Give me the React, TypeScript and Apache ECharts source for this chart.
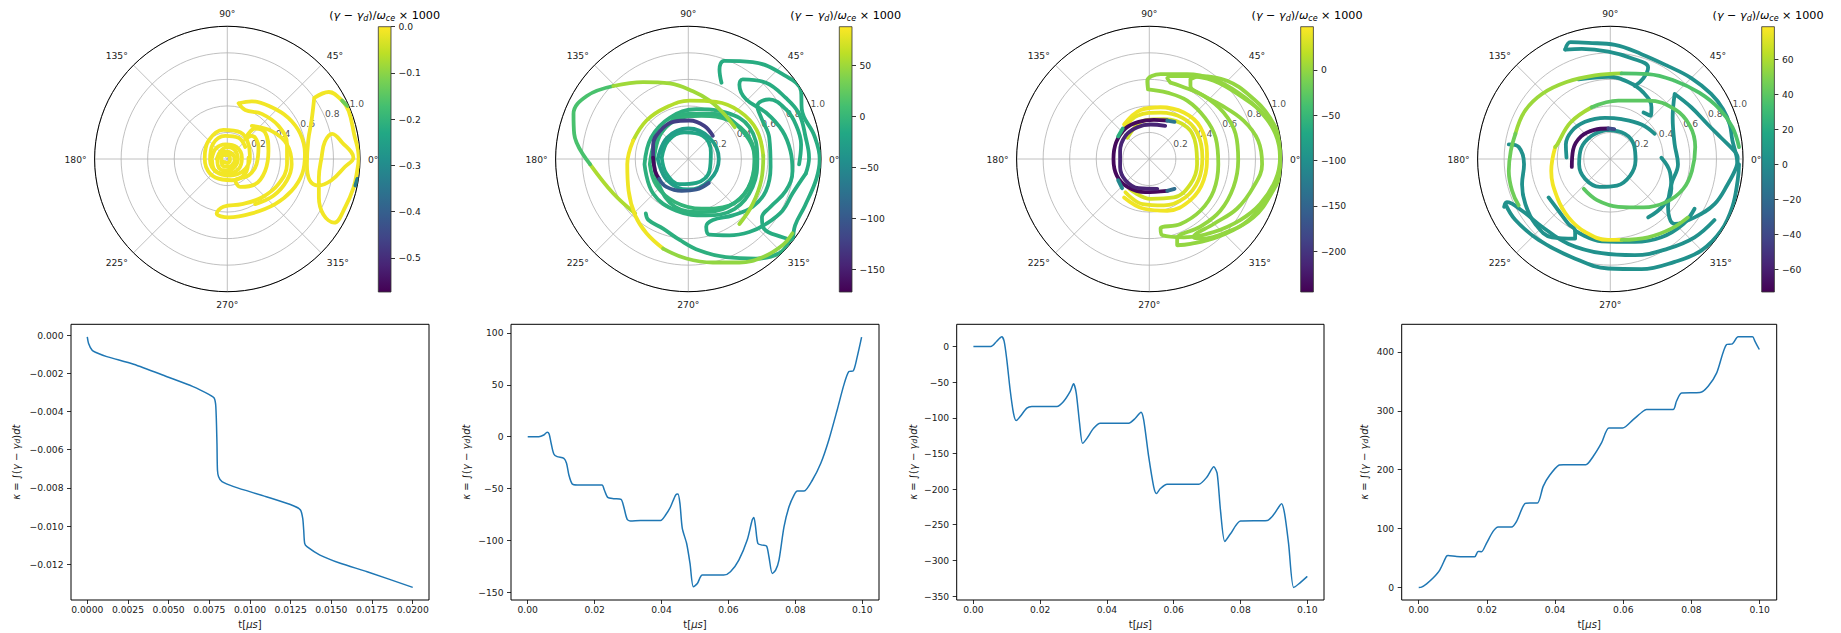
import React, { useEffect, useRef } from "react";
import * as echarts from "echarts";

const FONT = "'DejaVu Sans', sans-serif";
const VIRIDIS = ["#440154", "#482475", "#414487", "#355f8d", "#2a788e", "#21918c", "#22a884", "#44bf70", "#7ad151", "#bddf26", "#fde725"];

// ---- colorbar ranges & ticks ----
const cbMin = [-0.574, -172, -245, -72.9];
const cbMax = [0.0, 87.6, 47.5, 78.7];
const cbTicks1 = [0, -0.1, -0.2, -0.3, -0.4, -0.5];
const cbTicks2 = [50, 0, -50, -100, -150];
const cbTicks3 = [0, -50, -100, -150, -200];
const cbTicks4 = [60, 40, 20, 0, -20, -40, -60];
const cbDec = [1, 0, 0, 0];

// ---- polar radial tick labels ----
const rTicks = [0.2, 0.4, 0.6, 0.8, 1.0];
const rLabelAngle = 22.5;

type Stroke = { v: number; pts: number[][] };

// trajectories: points in units of r (x = r cos θ, y = r sin θ), v = colour value
const traj1: Stroke[] = [
  { v: -0.01, pts: [[-0.08, 0], [-0.05, 0.06], [0, 0.09], [0.055, 0.07], [0.08, 0], [0.055, -0.06], [0, -0.09], [-0.06, -0.07], [-0.075, -0.01], [-0.05, 0.04], [0, 0.055], [0.045, 0.03], [0.055, -0.01], [0.035, -0.05], [-0.01, -0.06], [-0.04, -0.04], [-0.045, 0.01], [-0.02, 0.03], [0.015, 0.025], [0.02, -0.01], [0, -0.03], [-0.03, -0.02]] },
  { v: -0.01, pts: [[-0.115, 0.01], [-0.085, 0.08], [-0.015, 0.11], [0.07, 0.09], [0.11, 0.01], [0.085, -0.075], [0, -0.11], [-0.09, -0.09], [-0.115, -0.01]] },
  { v: -0.01, pts: [[0.16, 0.01], [0.135, -0.11], [0.035, -0.16], [-0.09, -0.14], [-0.16, -0.06], [-0.17, 0.01], [-0.14, 0.14], [-0.03, 0.22], [0.1, 0.2], [0.16, 0.11], [0.17, 0.01], [0.12, -0.09], [0.02, -0.125], [-0.08, -0.1], [-0.13, -0.01], [-0.11, 0.11], [-0.015, 0.175], [0.085, 0.16], [0.135, 0.09]] },
  { v: -0.01, pts: [[0.135, 0.15], [0.21, 0.23], [0.285, 0.2], [0.31, 0.06], [0.285, -0.09], [0.21, -0.19], [0.1, -0.21], [0.06, -0.16], [0.16, -0.125], [0.22, -0.04], [0.235, 0.09], [0.185, 0.175], [0.135, 0.15]] },
  { v: -0.01, pts: [[0.085, 0.42], [0.185, 0.435], [0.335, 0.39], [0.46, 0.31], [0.55, 0.19], [0.585, 0.04], [0.565, -0.11], [0.485, -0.24], [0.36, -0.34], [0.185, -0.41], [0.01, -0.44], [-0.08, -0.41], [-0.03, -0.36], [0.11, -0.34], [0.26, -0.29], [0.385, -0.19], [0.45, -0.04], [0.45, 0.11], [0.385, 0.25], [0.26, 0.34], [0.135, 0.37], [0.085, 0.42]] },
  { v: -0.01, pts: [[0.185, 0.25], [0.335, 0.21], [0.45, 0.11], [0.485, -0.04], [0.45, -0.16], [0.35, -0.275], [0.21, -0.34]] },
  { v: -0.01, pts: [[0.655, 0.46], [0.765, 0.505], [0.865, 0.44], [0.915, 0.36], [0.955, 0.19], [0.99, 0.01], [0.975, -0.11], [0.95, -0.22], [0.89, -0.36], [0.805, -0.48], [0.725, -0.42], [0.69, -0.29], [0.69, -0.14], [0.71, 0.01], [0.735, 0.13], [0.79, 0.19], [0.865, 0.125], [0.95, 0.01], [0.885, -0.06], [0.785, -0.16], [0.685, -0.2], [0.62, -0.16], [0.6, -0.04], [0.61, 0.14], [0.635, 0.29], [0.655, 0.46]] },
  { v: -0.13, pts: [[0.865, 0.44], [0.905, 0.4]] },
  { v: -0.33, pts: [[0.965, -0.2], [0.98, -0.15]] },
];

const traj2: Stroke[] = [
  { v: -8, pts: [[-0.33, -0.04], [-0.28, 0.16], [-0.14, 0.31], [0.06, 0.375], [0.285, 0.35], [0.46, 0.24], [0.52, 0.01], [0.485, -0.21], [0.35, -0.375], [0.135, -0.425], [-0.09, -0.39], [-0.265, -0.26], [-0.33, -0.04]] },
  { v: -3, pts: [[-0.29, -0.04], [-0.24, 0.15], [-0.1, 0.29], [0.1, 0.325], [0.31, 0.29], [0.46, 0.16], [0.5, -0.025], [0.45, -0.225], [0.31, -0.35], [0.1, -0.375], [-0.1, -0.325], [-0.24, -0.2], [-0.29, -0.04]] },
  { v: -6, pts: [[-0.26, -0.02], [-0.2, 0.2], [0, 0.34], [0.2, 0.34], [0.4, 0.22], [0.5, 0], [0.45, -0.22], [0.3, -0.36], [0.1, -0.4], [-0.1, -0.36], [-0.22, -0.2], [-0.26, -0.02]] },
  { v: -20, pts: [[-0.2, 0.01], [-0.15, 0.14], [-0.03, 0.2], [0.11, 0.175], [0.17, 0.05], [0.16, -0.09], [0.06, -0.18], [-0.065, -0.19], [-0.165, -0.11], [-0.2, 0.01]] },
  { v: -28, pts: [[-0.23, 0], [-0.16, 0.16], [0, 0.23], [0.16, 0.16], [0.23, 0], [0.16, -0.16], [0, -0.23], [-0.16, -0.16], [-0.23, 0]] },
  { v: -12, pts: [[0.25, 0.575], [0.235, 0.675], [0.27, 0.74], [0.485, 0.73], [0.71, 0.64], [0.85, 0.51], [0.855, 0.375], [0.95, 0.175], [0.99, 0], [0.965, -0.15], [0.88, -0.35], [0.805, -0.5], [0.79, -0.61]] },
  { v: -12, pts: [[0.79, -0.61], [0.71, -0.59], [0.57, -0.525], [0.555, -0.44], [0.62, -0.36], [0.735, -0.24], [0.785, -0.09], [0.77, 0.06], [0.71, 0.21], [0.585, 0.35], [0.435, 0.45], [0.385, 0.56], [0.41, 0.6], [0.585, 0.575], [0.735, 0.46], [0.835, 0.34], [0.885, 0.16], [0.91, 0.01], [0.885, -0.11]] },
  { v: -12, pts: [[0.885, -0.11], [0.785, -0.26], [0.71, -0.39], [0.585, -0.49], [0.46, -0.55], [0.31, -0.575], [0.16, -0.57], [0.135, -0.51], [0.185, -0.46], [0.335, -0.425], [0.485, -0.36], [0.585, -0.24], [0.62, -0.06], [0.61, 0.16], [0.55, 0.31], [0.52, 0.4], [0.61, 0.45], [0.735, 0.375], [0.81, 0.26], [0.85, 0.11], [0.835, -0.04]] },
  { v: -8, pts: [[-0.32, -0.41], [-0.3, -0.46], [-0.19, -0.525], [-0.065, -0.61], [0.085, -0.69], [0.285, -0.74], [0.51, -0.75], [0.685, -0.71], [0.76, -0.62]] },
  { v: 55, pts: [[-0.4, -0.41], [-0.565, -0.26], [-0.74, -0.04]] },
  { v: 12, pts: [[-0.74, -0.04], [-0.86, 0.19], [-0.865, 0.34], [-0.765, 0.475], [-0.565, 0.55]] },
  { v: 50, pts: [[-0.565, 0.55], [-0.34, 0.58], [-0.14, 0.57], [0.035, 0.51], [0.16, 0.44], [0.26, 0.35], [0.35, 0.24]] },
  { v: 58, pts: [[0.565, 0.025], [0.515, 0.22], [0.385, 0.36], [0.21, 0.43], [0.01, 0.44], [-0.165, 0.39], [-0.315, 0.29], [-0.415, 0.14]] },
  { v: 82, pts: [[-0.415, 0.14], [-0.46, -0.04], [-0.45, -0.24], [-0.4, -0.425], [-0.315, -0.56], [-0.19, -0.675]] },
  { v: 45, pts: [[-0.19, -0.675], [-0.015, -0.75], [0.185, -0.78], [0.385, -0.78], [0.56, -0.74], [0.71, -0.65], [0.785, -0.56]] },
  { v: 50, pts: [[0.565, 0.025], [0.55, -0.16], [0.485, -0.34], [0.385, -0.49]] },
  { v: -125, pts: [[0.185, 0.175], [0.12, 0.25], [0.01, 0.29], [-0.115, 0.28], [-0.215, 0.21], [-0.265, 0.11], [-0.265, 0.01]] },
  { v: -165, pts: [[-0.265, 0.01], [-0.25, -0.09], [-0.22, -0.15]] },
  { v: -100, pts: [[-0.22, -0.15], [-0.165, -0.21], [-0.05, -0.24], [0.06, -0.23], [0.155, -0.18]] },
];

const traj3: Stroke[] = [
  { v: 0, pts: [[-0.01, 0.525], [-0.015, 0.59], [0.085, 0.64], [0.285, 0.64], [0.485, 0.6], [0.685, 0.49], [0.835, 0.36], [0.95, 0.19], [0.985, 0.01], [0.95, -0.16], [0.835, -0.34], [0.685, -0.46], [0.485, -0.55], [0.26, -0.59], [0.1, -0.575], [0.085, -0.525], [0.235, -0.49], [0.385, -0.39], [0.485, -0.24], [0.52, -0.04], [0.5, 0.16], [0.42, 0.31], [0.285, 0.44], [0.135, 0.5], [-0.01, 0.525]] },
  { v: 0, pts: [[0.16, 0.575], [0.135, 0.61], [0.285, 0.625], [0.485, 0.59], [0.71, 0.46], [0.86, 0.34], [0.97, 0.16], [0.99, -0.01], [0.96, -0.16], [0.86, -0.34], [0.71, -0.49], [0.51, -0.59], [0.31, -0.64], [0.21, -0.65], [0.21, -0.6], [0.385, -0.51], [0.535, -0.39], [0.635, -0.21], [0.67, -0.01], [0.65, 0.19], [0.56, 0.35], [0.41, 0.475], [0.235, 0.55], [0.16, 0.575]] },
  { v: 0, pts: [[0.31, 0.6], [0.385, 0.625], [0.585, 0.59], [0.76, 0.475], [0.91, 0.31], [0.985, 0.11], [0.985, -0.09], [0.92, -0.26], [0.785, -0.44], [0.585, -0.55], [0.385, -0.6], [0.335, -0.59], [0.485, -0.49], [0.66, -0.375], [0.785, -0.21], [0.85, -0.04], [0.82, 0.14], [0.71, 0.29], [0.535, 0.41], [0.385, 0.49], [0.31, 0.55], [0.31, 0.6]] },
  { v: 42, pts: [[-0.19, 0.26], [-0.065, 0.37], [0.085, 0.39], [0.26, 0.35], [0.385, 0.24], [0.435, 0.04], [0.41, -0.16], [0.31, -0.31], [0.135, -0.39], [-0.04, -0.375], [-0.19, -0.29]] },
  { v: 38, pts: [[-0.215, 0.19], [-0.09, 0.325], [0.085, 0.35], [0.25, 0.31], [0.36, 0.2], [0.4, 0.01], [0.37, -0.16], [0.27, -0.29], [0.11, -0.35], [-0.05, -0.34], [-0.18, -0.25]] },
  { v: 28, pts: [[-0.165, 0.16], [-0.04, 0.29], [0.11, 0.3], [0.285, 0.24], [0.35, 0.11], [0.36, -0.04], [0.31, -0.19], [0.185, -0.29], [0.01, -0.3], [-0.15, -0.225]] },
  { v: -238, pts: [[0.135, 0.29], [0.035, 0.295], [-0.08, 0.28], [-0.18, 0.23], [-0.25, 0.125], [-0.27, 0], [-0.245, -0.125], [-0.165, -0.21], [-0.03, -0.25], [0.135, -0.24]] },
  { v: -215, pts: [[0.12, 0.25], [0.01, 0.26], [-0.09, 0.24], [-0.18, 0.175], [-0.22, 0.06], [-0.22, -0.06], [-0.18, -0.16], [-0.08, -0.22], [0.06, -0.225]] },
  { v: -130, pts: [[0.135, 0.29], [0.19, 0.28]] },
  { v: -140, pts: [[0.135, -0.24], [0.19, -0.225]] },
  { v: -60, pts: [[-0.2, 0.23], [-0.235, 0.17]] },
  { v: -110, pts: [[-0.235, -0.16], [-0.205, -0.22]] },
];

const traj4: Stroke[] = [
  { v: 3, pts: [[-0.03, 0.22], [0.11, 0.19], [0.18, 0.1], [0.19, -0.01], [0.15, -0.125], [0.05, -0.2], [-0.08, -0.21], [-0.19, -0.15], [-0.235, -0.04], [-0.22, 0.08], [-0.14, 0.175], [-0.03, 0.22]] },
  { v: 3, pts: [[-0.33, 0.01], [-0.335, 0.11], [-0.29, 0.21], [-0.19, 0.28], [-0.04, 0.31], [0.085, 0.3], [0.235, 0.26], [0.335, 0.19]] },
  { v: 3, pts: [[-0.24, 0.6], [-0.015, 0.62], [0.135, 0.58], [0.25, 0.5], [0.31, 0.39], [0.305, 0.325], [0.25, 0.35]] },
  { v: 3, pts: [[-0.34, 0.825], [-0.215, 0.83], [-0.015, 0.81], [0.16, 0.76], [0.285, 0.69], [0.25, 0.61], [0.185, 0.55]] },
  { v: 3, pts: [[-0.34, 0.825], [-0.3, 0.88], [-0.165, 0.875], [0.035, 0.86], [0.235, 0.79], [0.435, 0.7], [0.61, 0.61], [0.76, 0.49], [0.85, 0.375], [0.9, 0.26], [0.92, 0.14], [0.95, 0.025], [0.96, -0.04]] },
  { v: 3, pts: [[0.485, 0.49], [0.47, 0.31], [0.485, 0.11], [0.51, -0.04], [0.46, -0.19], [0.435, -0.36], [0.485, -0.49], [0.635, -0.44], [0.785, -0.34], [0.885, -0.19], [0.95, -0.06], [0.96, 0.01], [0.935, 0.06], [0.835, 0.16], [0.735, 0.26], [0.61, 0.39], [0.485, 0.49]] },
  { v: 3, pts: [[-0.79, -0.34], [-0.715, -0.46], [-0.54, -0.61], [-0.29, -0.74], [-0.015, -0.825], [0.235, -0.83], [0.485, -0.775], [0.685, -0.69], [0.835, -0.54], [0.92, -0.36], [0.96, -0.16], [0.97, -0.04]] },
  { v: 3, pts: [[-0.8, -0.36], [-0.78, -0.325], [-0.665, -0.39], [-0.515, -0.51], [-0.315, -0.64], [-0.065, -0.71], [0.185, -0.725], [0.435, -0.675], [0.635, -0.59], [0.785, -0.46]] },
  { v: 3, pts: [[-0.765, 0.11], [-0.69, 0.09], [-0.65, -0.04], [-0.665, -0.19], [-0.64, -0.34], [-0.565, -0.49], [-0.44, -0.59], [-0.265, -0.6], [-0.265, -0.54], [-0.315, -0.49], [-0.39, -0.39], [-0.465, -0.29]] },
  { v: 3, pts: [[-0.265, -0.54], [-0.065, -0.62], [0.185, -0.625], [0.385, -0.59], [0.55, -0.49], [0.635, -0.375]] },
  { v: 3, pts: [[0.385, 0.01], [0.45, -0.1], [0.46, -0.225], [0.4, -0.35], [0.285, -0.44]] },
  { v: -68, pts: [[-0.29, -0.06], [-0.28, 0.07], [-0.22, 0.17], [-0.12, 0.22], [-0.015, 0.23]] },
  { v: -40, pts: [[-0.015, 0.23], [0.03, 0.225]] },
  { v: 76, pts: [[-0.415, 0.09], [-0.445, -0.09], [-0.4, -0.29], [-0.315, -0.44], [-0.19, -0.55], [-0.015, -0.61], [0.085, -0.61]] },
  { v: 50, pts: [[0.085, -0.61], [0.285, -0.59], [0.46, -0.525], [0.585, -0.44]] },
  { v: 58, pts: [[-0.415, 0.09], [-0.4, 0.11], [-0.3, 0.275], [-0.14, 0.39]] },
  { v: 40, pts: [[-0.14, 0.39], [0.06, 0.44], [0.285, 0.44], [0.485, 0.375], [0.6, 0.25], [0.64, 0.09], [0.615, -0.09], [0.55, -0.225], [0.42, -0.325], [0.25, -0.365], [0.06, -0.36], [-0.1, -0.31], [-0.2, -0.225]] },
  { v: 56, pts: [[-0.715, 0.19], [-0.645, 0.36], [-0.515, 0.49], [-0.33, 0.58], [-0.115, 0.63], [0.085, 0.645]] },
  { v: 36, pts: [[0.085, 0.645], [0.285, 0.64], [0.485, 0.59], [0.67, 0.5], [0.82, 0.38], [0.92, 0.24], [0.97, 0.09]] },
  { v: 45, pts: [[-0.715, 0.19], [-0.75, 0.06], [-0.765, -0.09], [-0.74, -0.24], [-0.69, -0.35]] },
];

const trajs = [traj1, traj2, traj3, traj4];
const cbTicks = [cbTicks1, cbTicks2, cbTicks3, cbTicks4];

// ---- κ(t) curves ----
const kappa1 = [[0, -0.0001], [0.00008, -0.00044], [0.0003, -0.0008], [0.0005, -0.0009], [0.0012, -0.00113], [0.00285, -0.00153], [0.0049, -0.00218], [0.0065, -0.0027], [0.0075, -0.00312], [0.0078, -0.0033], [0.0079, -0.00375], [0.00797, -0.00567], [0.008, -0.00706], [0.00807, -0.00741], [0.00828, -0.00767], [0.009, -0.00793], [0.011, -0.00846], [0.0127, -0.00894], [0.0131, -0.00915], [0.01324, -0.00959], [0.0133, -0.0102], [0.01336, -0.0109], [0.0135, -0.01107], [0.0143, -0.01151], [0.01555, -0.01194], [0.0172, -0.01238], [0.02, -0.0132]];
const kappa2 = [[0, 0], [0.0033, 0], [0.0048, 1.6], [0.0058, 4.2], [0.0064, 2.6], [0.007, -6.4], [0.0078, -16.7], [0.0088, -19.3], [0.0108, -20.9], [0.0116, -25.7], [0.0123, -37], [0.0133, -45.7], [0.0148, -46.7], [0.0222, -46.7], [0.0229, -51.5], [0.0239, -58.6], [0.0257, -59.8], [0.0279, -60.5], [0.0287, -67.6], [0.0297, -79.5], [0.0307, -81.4], [0.0337, -80.8], [0.0397, -80.8], [0.0412, -75.6], [0.0427, -67.6], [0.0442, -56.3], [0.0449, -55.3], [0.0455, -64.4], [0.0462, -88.5], [0.0475, -103], [0.0485, -122], [0.0495, -144.8], [0.0507, -141.6], [0.0522, -133.5], [0.0586, -133.5], [0.0606, -130.3], [0.0631, -119], [0.0656, -99.7], [0.0671, -80.4], [0.0676, -77.9], [0.0681, -86.9], [0.0688, -103], [0.0701, -104.6], [0.0714, -105.5], [0.0721, -115.8], [0.0731, -131.9], [0.0741, -128.7], [0.0751, -119], [0.0766, -86.9], [0.0781, -67.6], [0.0796, -56.3], [0.0806, -52.4], [0.0826, -52.4], [0.0851, -41.8], [0.0876, -25.7], [0.09, -3.2], [0.0925, 25.7], [0.0945, 49.9], [0.096, 62.8], [0.0973, 63.4], [0.0985, 77.2], [0.0998, 95.9]];
const kappa3 = [[0, 0], [0.0052, 0], [0.007, 7.5], [0.0085, 13.6], [0.0092, 7.5], [0.01, -18.3], [0.011, -60.6], [0.012, -93.5], [0.0128, -103.9], [0.014, -98.2], [0.016, -86.5], [0.0175, -84.1], [0.025, -84.1], [0.027, -77.1], [0.029, -63], [0.03, -52.2], [0.0308, -65.3], [0.0318, -107.6], [0.0327, -135.8], [0.034, -128.8], [0.036, -114.7], [0.038, -107.6], [0.0465, -107.6], [0.0485, -100.6], [0.0502, -92.1], [0.051, -102.9], [0.0525, -154.6], [0.054, -196.9], [0.0548, -206.3], [0.056, -199.2], [0.058, -193.1], [0.0675, -193.1], [0.07, -182.8], [0.072, -168.7], [0.073, -178.1], [0.074, -229.8], [0.0753, -273.5], [0.077, -262.7], [0.08, -244.8], [0.088, -243.9], [0.09, -235.4], [0.0923, -220.4], [0.0932, -234.5], [0.0944, -276.8], [0.0959, -337.9], [0.0974, -333.2], [0.1, -322.4]];
const kappa4 = [[0, 0], [0.0008, 0.6], [0.0023, 6.2], [0.0042, 15.9], [0.0062, 30], [0.0081, 52.7], [0.0086, 54.4], [0.0111, 52.7], [0.0164, 52.1], [0.0174, 61.2], [0.0184, 60.6], [0.0199, 75.4], [0.0218, 95.2], [0.0233, 102.6], [0.0272, 102.6], [0.0287, 112.2], [0.0311, 142.2], [0.0326, 143.3], [0.0348, 143.3], [0.0365, 171.7], [0.0384, 190.4], [0.0412, 207.9], [0.0424, 208.5], [0.049, 208.5], [0.0512, 222.7], [0.0536, 245.3], [0.0558, 270.8], [0.0598, 270.8], [0.0629, 285], [0.0658, 299.2], [0.0668, 302], [0.0746, 302], [0.0756, 316.1], [0.0771, 330.3], [0.0825, 330.9], [0.0849, 341.6], [0.0874, 364.3], [0.0903, 412.5], [0.092, 413.6], [0.0937, 425.5], [0.0979, 425.5], [0.0986, 418.1], [0.0999, 404]];
const kappas = [kappa1, kappa2, kappa3, kappa4];

const xRange = [[-0.001, 0.021], [-0.005, 0.105], [-0.005, 0.105], [-0.005, 0.105]];
const yRange = [[-0.01386, 0.00056], [-157.5, 108.3], [-355.6, 31.2], [-21.3, 446.8]];
const xTicks1 = [0, 0.0025, 0.005, 0.0075, 0.01, 0.0125, 0.015, 0.0175, 0.02];
const xTicksB = [0, 0.02, 0.04, 0.06, 0.08, 0.1];
const yTicks1 = [0, -0.002, -0.004, -0.006, -0.008, -0.01, -0.012];
const yTicks2 = [100, 50, 0, -50, -100, -150];
const yTicks3 = [0, -50, -100, -150, -200, -250, -300, -350];
const yTicks4 = [0, 100, 200, 300, 400];
const xTicks = [xTicks1, xTicksB, xTicksB, xTicksB];
const yTicks = [yTicks1, yTicks2, yTicks3, yTicks4];
const xDec = [4, 2, 2, 2];
const yDec = [3, 0, 0, 0];

// ---- layout ----
const POLAR_CX = [227.3, 688.3, 1149.3, 1610.3];
const POLAR_CY = 159;
const POLAR_R = 132.7;
const CB_LEFT = [378.3, 839.3, 1300.7, 1761.7];
const CB_TOP = 26.7;
const CB_W = 12.7;
const CB_H = 265.3;
const LG_LEFT = [71, 511, 956.7, 1401.7];
const LG_W = [358, 368, 367.3, 375];
const LG_TOP = 324.3;
const LG_H = 275.7;
const Y_NAME_GAP = [50, 40, 38.7, 32.7];
const TICK_FS = 9.2;
const TXT = "#1a1a1a";

function hexRgb(h: string) {
  return [parseInt(h.slice(1, 3), 16), parseInt(h.slice(3, 5), 16), parseInt(h.slice(5, 7), 16)];
}
function viridis(t: number) {
  const c = Math.max(0, Math.min(1, t)) * 10;
  const i = Math.min(9, Math.floor(c));
  const f = c - i;
  const a = hexRgb(VIRIDIS[i]);
  const b = hexRgb(VIRIDIS[i + 1]);
  const m = a.map((x, k) => Math.round(x + (b[k] - x) * f));
  return `rgb(${m[0]},${m[1]},${m[2]})`;
}
function toPolar(p: number[]) {
  const r = Math.hypot(p[0], p[1]);
  const a = ((Math.atan2(p[1], p[0]) * 180) / Math.PI + 360) % 360;
  return [r, a];
}
function fmt(v: number, d: number) {
  const s = v.toFixed(d);
  return s.replace("-", "\u2212");
}

function buildOption() {
  const idx = [0, 1, 2, 3];
  const series: any[] = [];
  idx.forEach((i) => {
    series.push({
      type: "scatter",
      coordinateSystem: "polar",
      polarIndex: i,
      data: rTicks.map((r) => [r, rLabelAngle]),
      symbolSize: 1,
      itemStyle: { color: "rgba(0,0,0,0)" },
      silent: true,
      z: 1,
      label: {
        show: true,
        position: [0, 0],
        align: "left",
        verticalAlign: "bottom",
        formatter: (p: any) => p.value[0].toFixed(1),
        color: TXT,
        fontSize: TICK_FS,
        fontFamily: FONT,
      },
    });
    const lo = cbMin[i];
    const hi = cbMax[i];
    trajs[i].forEach((s) => {
      series.push({
        type: "line",
        coordinateSystem: "polar",
        polarIndex: i,
        data: s.pts.map(toPolar),
        smooth: 0.4,
        showSymbol: false,
        symbol: "none",
        silent: true,
        z: 3,
        lineStyle: { color: viridis((s.v - lo) / (hi - lo)), width: 3.8, cap: "round", join: "round" },
      });
    });
    series.push({
      type: "custom",
      xAxisIndex: i,
      yAxisIndex: i,
      silent: true,
      data: [[0, lo]],
      renderItem: (_params: any, api: any) => {
        const a = api.coord([0, hi]);
        const b = api.coord([1, lo]);
        return {
          type: "rect",
          shape: { x: a[0], y: a[1], width: b[0] - a[0], height: b[1] - a[1] },
          style: {
            fill: new echarts.graphic.LinearGradient(0, 1, 0, 0, VIRIDIS.map((c, k) => ({ offset: k / 10, color: c }))),
            stroke: "#333",
            lineWidth: 0.8,
          },
        };
      },
    });
    series.push({
      type: "line",
      xAxisIndex: 4 + i,
      yAxisIndex: 4 + i,
      data: kappas[i],
      showSymbol: false,
      symbol: "none",
      smooth: 0.25,
      silent: true,
      lineStyle: { color: "#1f77b4", width: 1.5 },
    });
  });

  const grids: any[] = [];
  const xAxes: any[] = [];
  const yAxes: any[] = [];
  idx.forEach((i) => {
    grids.push({ left: CB_LEFT[i], top: CB_TOP, width: CB_W, height: CB_H, show: false, containLabel: false, outerBoundsMode: "none" });
    xAxes.push({ gridIndex: i, type: "value", min: 0, max: 1, show: false });
    yAxes.push({
      gridIndex: i,
      type: "value",
      position: "right",
      min: cbMin[i],
      max: cbMax[i],
      axisLine: { show: false, onZero: false },
      splitLine: { show: false },
      axisTick: { show: true, length: 4, lineStyle: { color: "#000", width: 0.8 }, customValues: cbTicks[i] },
      axisLabel: { customValues: cbTicks[i], margin: 7.5, color: TXT, fontSize: TICK_FS, fontFamily: FONT, formatter: (v: number) => fmt(v, cbDec[i]) },
    });
  });
  const italic = { fontStyle: "italic", fontWeight: "normal", fontSize: 10, fontFamily: FONT, color: TXT };
  idx.forEach((i) => {
    grids.push({ left: LG_LEFT[i], top: LG_TOP, width: LG_W[i], height: LG_H, show: true, borderColor: "#000", borderWidth: 1, backgroundColor: "transparent", containLabel: false, outerBoundsMode: "none" });
    xAxes.push({
      gridIndex: 4 + i,
      type: "value",
      position: "bottom",
      min: xRange[i][0],
      max: xRange[i][1],
      axisLine: { show: false, onZero: false },
      splitLine: { show: false },
      axisTick: { show: true, length: 4, lineStyle: { color: "#000", width: 0.8 }, customValues: xTicks[i] },
      axisLabel: { customValues: xTicks[i], margin: 5, color: TXT, fontSize: TICK_FS, fontFamily: FONT, formatter: (v: number) => fmt(v, xDec[i]) },
      name: "t[{i|μs}]",
      nameLocation: "middle",
      nameGap: 19,
      nameTextStyle: { color: TXT, fontSize: 10, fontWeight: "normal", fontFamily: FONT, rich: { i: italic } },
    });
    yAxes.push({
      gridIndex: 4 + i,
      type: "value",
      position: "left",
      min: yRange[i][0],
      max: yRange[i][1],
      axisLine: { show: false, onZero: false },
      splitLine: { show: false },
      axisTick: { show: true, length: 4, lineStyle: { color: "#000", width: 0.8 }, customValues: yTicks[i] },
      axisLabel: { customValues: yTicks[i], margin: 7.5, color: TXT, fontSize: TICK_FS, fontFamily: FONT, formatter: (v: number) => fmt(v, yDec[i]) },
      name: "{i|κ} = ∫({i|γ} − {i|γ}{s|d}){i|dt}",
      nameLocation: "middle",
      nameGap: Y_NAME_GAP[i],
      nameTextStyle: {
        color: TXT,
        fontSize: 10,
        fontWeight: "normal",
        fontFamily: FONT,
        rich: { i: italic, s: { fontStyle: "italic", fontWeight: "normal", fontSize: 7.5, fontFamily: FONT, color: TXT, verticalAlign: "bottom", lineHeight: 6 } },
      },
    });
  });

  const graphic = idx.map((i) => ({
    type: "text",
    x: CB_LEFT[i] + CB_W / 2,
    y: 15.5,
    silent: true,
    style: {
      text: "({i|γ} − {i|γ}{s|d})/{i|ω}{s|ce} × 1000",
      fontSize: 11.2,
      fontWeight: "normal",
      fontFamily: FONT,
      fill: "#000",
      align: "center",
      verticalAlign: "middle",
      rich: {
        i: { fontStyle: "italic", fontWeight: "normal", fontSize: 11.2, fontFamily: FONT, fill: "#000", lineHeight: 14 },
        s: { fontStyle: "italic", fontWeight: "normal", fontSize: 8, fontFamily: FONT, fill: "#000", verticalAlign: "bottom", lineHeight: 5 },
      },
    },
  }));

  return {
    animation: false,
    backgroundColor: "#ffffff",
    polar: idx.map((i) => ({ center: [POLAR_CX[i], POLAR_CY], radius: POLAR_R })),
    angleAxis: idx.map((i) => ({
      polarIndex: i,
      type: "value",
      min: 0,
      max: 360,
      interval: 45,
      startAngle: 0,
      clockwise: false,
      axisLine: { show: true, lineStyle: { color: "#000", width: 1 } },
      axisTick: { show: false },
      axisLabel: { show: true, margin: 8, color: TXT, fontSize: TICK_FS, fontFamily: FONT, formatter: (v: number) => (v >= 360 ? "" : `${v}°`) },
      splitLine: { show: true, lineStyle: { color: "#b0b0b0", width: 0.8 } },
    })),
    radiusAxis: idx.map((i) => ({
      polarIndex: i,
      type: "value",
      min: 0,
      max: 1,
      interval: 0.2,
      axisLine: { show: false },
      axisTick: { show: false },
      axisLabel: { show: false },
      splitLine: { show: true, lineStyle: { color: "#b0b0b0", width: 0.8 } },
    })),
    grid: grids,
    xAxis: xAxes,
    yAxis: yAxes,
    series,
    graphic,
  };
}

export default function App() {
  const ref = useRef<HTMLDivElement>(null);
  useEffect(() => {
    if (!ref.current) return;
    const chart = echarts.init(ref.current, undefined, { renderer: "svg" });
    chart.setOption(buildOption() as any);
    return () => chart.dispose();
  }, []);
  return <div ref={ref} style={{ position: "absolute", left: 0, top: 0, width: 1841, height: 633, background: "#fff" }} />;
}
